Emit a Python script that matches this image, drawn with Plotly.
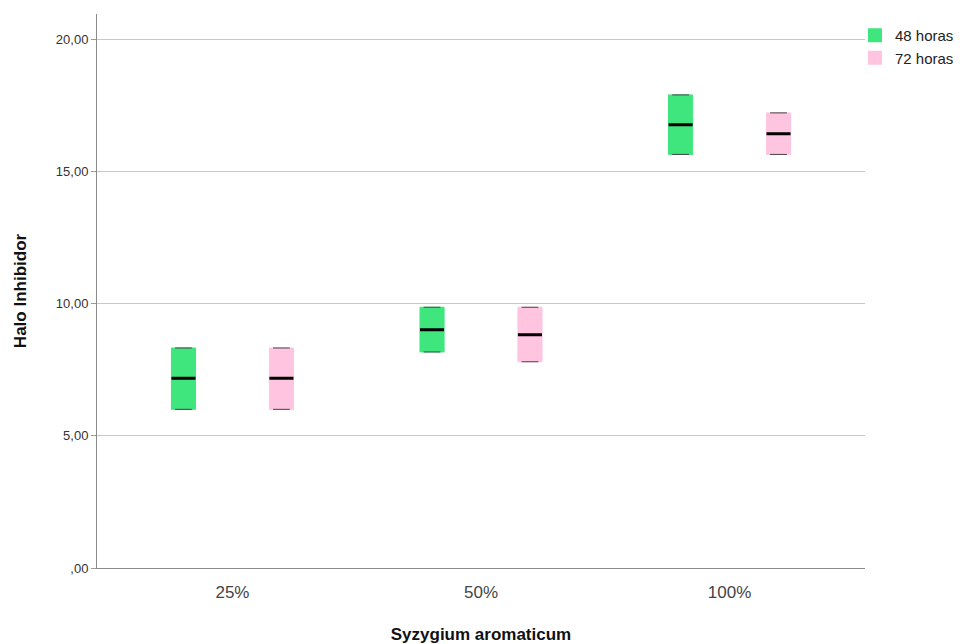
import plotly.graph_objects as go

# Concentrations of Syzygium aromaticum extract (x categories)
categories = ["25%", "50%", "100%"]

# Inhibition halo summary per exposure time
h48_min = [6.00, 8.17, 15.64]
h48_q1 = [6.00, 8.17, 15.64]
h48_median = [7.18, 9.01, 16.76]
h48_q3 = [8.32, 9.86, 17.89]
h48_max = [8.32, 9.86, 17.89]

h72_min = [6.00, 7.80, 15.64]
h72_q1 = [6.00, 7.80, 15.64]
h72_median = [7.18, 8.82, 16.42]
h72_q3 = [8.32, 9.86, 17.21]
h72_max = [8.32, 9.86, 17.21]

y_tickvals = [0, 5, 10, 15, 20]
y_ticktext = [",00", "5,00", "10,00", "15,00", "20,00"]

series = [
    ("48 horas", "g48", "#3fe67d", h48_min, h48_q1, h48_median, h48_q3, h48_max),
    ("72 horas", "g72", "#ffc4e0", h72_min, h72_q1, h72_median, h72_q3, h72_max),
]

FONT = "Liberation Sans, Arial, sans-serif"

fig = go.Figure()

for name, grp, color, mn, q1, med, q3, mx in series:
    # box body (no outline)
    fig.add_trace(go.Box(
        name=name, x=categories, q1=q1, median=q1, q3=q3,
        lowerfence=mn, upperfence=mx, offsetgroup=grp,
        fillcolor=color, line=dict(color=color, width=1),
        whiskerwidth=0, boxpoints=False, hoverinfo="skip",
        legendgroup=grp, showlegend=True,
    ))

for name, grp, color, mn, q1, med, q3, mx in series:
    # median bar drawn as a zero-height box
    fig.add_trace(go.Box(
        name=name, x=categories, q1=med, median=med, q3=med,
        lowerfence=med, upperfence=med, offsetgroup=grp,
        fillcolor="black", line=dict(color="black", width=3),
        whiskerwidth=0, boxpoints=False, hoverinfo="skip",
        legendgroup=grp, showlegend=False,
    ))
    # whisker caps at minimum and maximum
    for vals in (mn, mx):
        fig.add_trace(go.Scatter(
            x=categories, y=vals, mode="markers", offsetgroup=grp,
            marker=dict(symbol="line-ew", size=12,
                        line=dict(color="#444444", width=1)),
            hoverinfo="skip", showlegend=False, legendgroup=grp,
        ))

fig.update_layout(
    width=960, height=644,
    margin=dict(l=97, r=95, t=14, b=76, autoexpand=False),
    paper_bgcolor="white", plot_bgcolor="white",
    font=dict(family=FONT, color="#222"),
    boxmode="group", boxgap=0.212, boxgroupgap=0.754,
    scattermode="group", scattergap=0.212,
    legend=dict(
        xref="container", yref="container",
        x=855 / 960, y=1 - 19 / 644, xanchor="left", yanchor="top",
        font=dict(size=15, color="#222", family=FONT),
        bgcolor="rgba(0,0,0,0)", itemwidth=30,
        tracegroupgap=0, itemsizing="constant",
    ),
    showlegend=True,
)

fig.update_xaxes(
    type="category", range=[-0.545, 2.545],
    showline=True, linecolor="#8a8a8a", linewidth=1,
    showgrid=False, ticks="", zeroline=False, ticklabelstandoff=9,
    tickfont=dict(size=17, color="#444", family=FONT),
    title=dict(text="<b>Syzygium aromaticum</b>",
               font=dict(size=17, color="#111", family=FONT), standoff=30),
)

fig.update_yaxes(
    range=[0, 20.95], tickvals=y_tickvals, ticktext=y_ticktext,
    showline=True, linecolor="#8a8a8a", linewidth=1,
    showgrid=True, gridcolor="#c8c8c8", gridwidth=1, zeroline=False,
    ticks="outside", ticklen=5, tickcolor="#9a9a9a",
    tickfont=dict(size=13, color="#333", family=FONT),
    title=dict(text="<b>Halo Inhibidor</b>",
               font=dict(size=17, color="#111", family=FONT), standoff=24),
)

fig.write_html("out.html")
